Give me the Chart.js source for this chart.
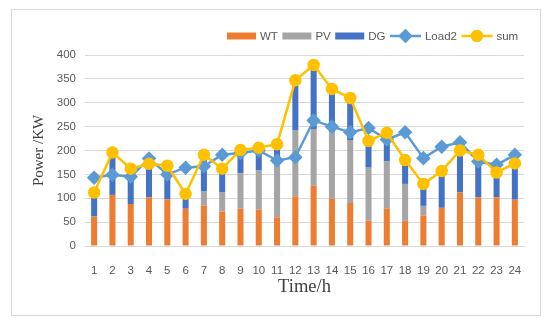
<!DOCTYPE html>
<html>
<head>
<meta charset="utf-8">
<script src="https://cdn.jsdelivr.net/npm/chart.js@4"></script>
<style>
  html, body { margin: 0; padding: 0; background: #fff; }
  #frame {
    position: absolute;
    left: 11px; top: 9px;
    width: 530px; height: 307px;
    box-sizing: border-box;
    border: 1px solid #d9d9d9;
  }
  canvas { display: block; }
</style>
</head>
<body>
<div id="frame"><canvas id="chart" width="528" height="305"></canvas></div>
<script>
const hours = ['1','2','3','4','5','6','7','8','9','10','11','12','13','14','15','16','17','18','19','20','21','22','23','24'];
const wt    = [62, 107, 88, 102, 98, 78, 85, 72, 78, 76, 60, 104, 126, 99, 90, 53, 78, 53, 64, 80, 112, 102, 102, 97];
const pv    = [0, 0, 0, 0, 0, 0, 29, 41, 75, 82, 109, 139, 119, 139, 132, 111, 99, 77, 20, 0, 0, 0, 0, 0];
const dg    = [50, 89, 74, 70, 70, 31, 77, 49, 48, 48, 44, 104, 134, 91, 88, 56, 60, 50, 46, 77, 88, 89, 52, 76];
const load2 = [143, 149, 145, 183, 150, 164, 167, 191, 195, 200, 179, 186, 263, 250, 238, 247, 223, 238, 184, 208, 217, 177, 170, 191];
const sum   = [112, 196, 162, 172, 168, 109, 191, 162, 201, 206, 213, 347, 379, 329, 310, 220, 237, 180, 130, 157, 200, 191, 154, 173];

const TICK_COLOR = '#595959';
const GRID_COLOR = '#d9d9d9';
const tickFont = { family: '"Liberation Sans", Arial, sans-serif', size: 11.5 };

// legend drawn above the plot, right of centre like the Excel one
const topLegend = {
  id: 'topLegend',
  afterDraw(chart) {
    const ctx = chart.ctx;
    let x = 215;
    const y = 26;
    ctx.save();
    ctx.font = '11.5px "Liberation Sans", Arial, sans-serif';
    ctx.textBaseline = 'middle';
    chart.data.datasets.forEach(ds => {
      let w;
      if (ds.type === 'line') {
        w = 31;
        ctx.strokeStyle = ds.borderColor;
        ctx.lineWidth = 2.5;
        ctx.beginPath();
        ctx.moveTo(x, y);
        ctx.lineTo(x + w, y);
        ctx.stroke();
        Chart.helpers.drawPoint(ctx, {
          pointStyle: ds.pointStyle,
          radius: ds.pointRadius,
          borderWidth: 1
        }, x + w / 2, y);
        ctx.fillStyle = ds.pointBackgroundColor;
        ctx.fill();
      } else {
        w = 29;
        ctx.fillStyle = ds.backgroundColor;
        ctx.fillRect(x, y - 3.5, w, 7);
      }
      x += w + 4;
      ctx.fillStyle = TICK_COLOR;
      ctx.textAlign = 'left';
      ctx.fillText(ds.label, x, y + 0.5);
      x += ctx.measureText(ds.label).width + 4.5;
    });
    ctx.restore();
  }
};

new Chart(document.getElementById('chart').getContext('2d'), {
  data: {
    labels: hours,
    datasets: [
      { type: 'bar', label: 'WT', data: wt, backgroundColor: '#ed7d31', order: 2 },
      { type: 'bar', label: 'PV', data: pv, backgroundColor: '#a5a5a5', order: 2 },
      { type: 'bar', label: 'DG', data: dg, backgroundColor: '#4472c4', order: 2 },
      {
        type: 'line', label: 'Load2', data: load2, stack: 'load',
        borderColor: '#5b9bd5', borderWidth: 2.5,
        pointStyle: 'rectRot', pointRadius: 5.5,
        pointBackgroundColor: '#5b9bd5', pointBorderColor: '#5b9bd5',
        tension: 0, order: 1
      },
      {
        type: 'line', label: 'sum', data: sum, stack: 'sum',
        borderColor: '#ffc000', borderWidth: 2.5,
        pointStyle: 'circle', pointRadius: 5,
        pointBackgroundColor: '#ffc000', pointBorderColor: '#ffc000',
        tension: 0, order: 0
      }
    ]
  },
  options: {
    responsive: false,
    animation: false,
    events: [],
    datasets: {
      bar: { barPercentage: 0.33, categoryPercentage: 1 }
    },
    layout: {
      padding: { left: 14, right: 16, top: 45, bottom: 13 }
    },
    scales: {
      x: {
        stacked: true,
        grid: { display: false },
        border: { display: true, color: GRID_COLOR },
        ticks: { color: TICK_COLOR, font: tickFont, padding: 10, maxRotation: 0, autoSkip: false },
        title: {
          display: true,
          text: 'Time/h',
          color: '#404040',
          font: { family: '"Liberation Serif", "Times New Roman", serif', size: 18.5 },
          padding: { top: 4, bottom: 4 }
        },
        afterFit(scale) { scale.height = 56; }
      },
      y: {
        stacked: true,
        min: 0,
        max: 400,
        grid: { color: GRID_COLOR, drawTicks: false },
        border: { display: false },
        ticks: { stepSize: 50, color: TICK_COLOR, font: tickFont, padding: 9 },
        title: {
          display: true,
          text: 'Power /KW',
          color: '#404040',
          font: { family: '"Liberation Serif", "Times New Roman", serif', size: 15 },
          padding: { top: 4, bottom: 4 }
        },
        afterFit(scale) { scale.width = 59; }
      }
    },
    plugins: {
      legend: { display: false },
      tooltip: { enabled: false }
    }
  },
  plugins: [topLegend]
});
</script>
</body>
</html>
